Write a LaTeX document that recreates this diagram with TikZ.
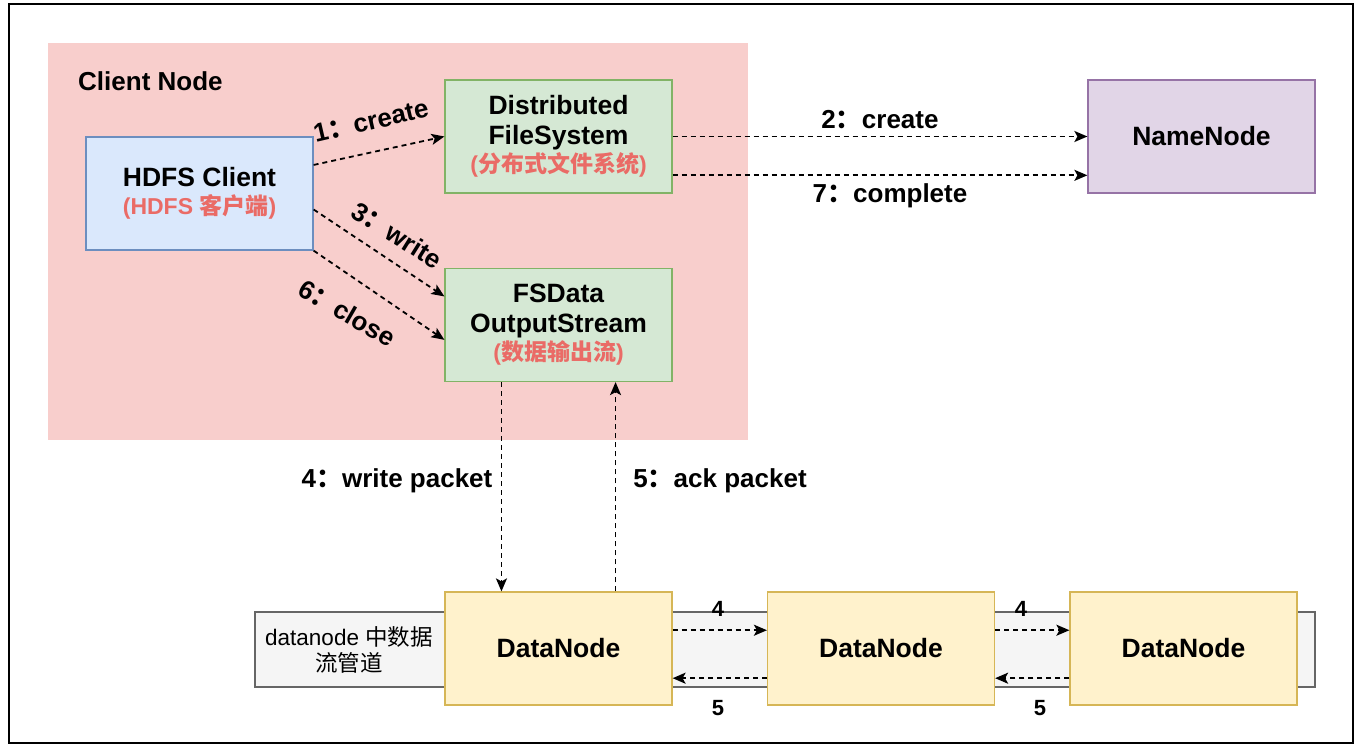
\documentclass[tikz,border=0pt]{standalone}
\usepackage{fontspec}
\setmainfont{Liberation Sans}
\newfontfamily\cjk{Noto Sans CJK SC}
\usetikzlibrary{arrows.meta,calc}
\definecolor{pinkbg}{HTML}{F8CECC}
\definecolor{bluef}{HTML}{DAE8FC}
\definecolor{bluel}{HTML}{6C8EBF}
\definecolor{greenf}{HTML}{D5E8D4}
\definecolor{greenl}{HTML}{82B366}
\definecolor{purf}{HTML}{E1D5E7}
\definecolor{purl}{HTML}{9673A6}
\definecolor{yelf}{HTML}{FFF2CC}
\definecolor{yell}{HTML}{D6B656}
\definecolor{grayf}{HTML}{F5F5F5}
\definecolor{grayl}{HTML}{666666}
\definecolor{redtxt}{HTML}{EA6B66}
\tikzset{
  box/.style={draw, line width=1.2pt, minimum width=227pt, minimum height=113pt, inner sep=0pt, align=center, font=\bfseries\fontsize{26.5}{30}\selectfont},
  conn/.style={line width=1.8pt, dash pattern=on 5pt off 4pt, -{Stealth[length=13pt,width=11pt,inset=3pt]}},
  lbl/.style={font=\bfseries\fontsize{26}{30}\selectfont, inner sep=1pt},
  slbl/.style={font=\bfseries\fontsize{22}{26}\selectfont, inner sep=1pt}
}
\newcommand{\rtxt}[1]{{\color{redtxt}\fontsize{23}{26}\selectfont #1}}
\begin{document}
\begin{tikzpicture}[x=1pt,y=-1pt]
\useasboundingbox (0,0) rectangle (1365,754);
\fill[white] (0,0) rectangle (1365,754);
\node[draw=black, line width=1.3pt, minimum width=1344pt, minimum height=739pt, inner sep=0pt] (frame) at (681,373.5) {};
% client node area
\node[fill=pinkbg, minimum width=700pt, minimum height=397pt, inner sep=0pt] (client) at (398,241.5) {};
\node[anchor=west, font=\bfseries\fontsize{26}{30}\selectfont, inner sep=1pt] (cnlabel) at (77,81) {Client Node};
% nodes
\node[box, fill=bluef, draw=bluel] (hc) at (199.5,193.5) {HDFS Client\\[-2pt]\rtxt{(HDFS {\cjk 客户端})}};
\node[box, fill=greenf, draw=greenl] (dfs) at (558.5,136.5) {Distributed\\FileSystem\\[-2pt]\rtxt{({\cjk 分布式文件系统})}};
\node[box, fill=greenf, draw=greenl] (fsd) at (558.5,325) {FSData\\OutputStream\\[-2pt]\rtxt{({\cjk 数据输出流})}};
\node[box, fill=purf, draw=purl] (nn) at (1201.5,136.5) {NameNode};
% pipeline strip
\node[draw=grayl, fill=grayf, line width=1.2pt, minimum width=1060pt, minimum height=75pt, inner sep=0pt] (pipe) at (785,649.5) {};
\node[align=center, font=\fontsize{22.5}{26}\selectfont] (pipelbl) at (349,650) {datanode {\cjk 中数据}\\{\cjk 流管道}};
\node[box, fill=yelf, draw=yell] (dn1) at (558.5,648.5) {DataNode};
\node[box, fill=yelf, draw=yell] (dn2) at (881,648.5) {DataNode};
\node[box, fill=yelf, draw=yell] (dn3) at (1183.5,648.5) {DataNode};
% connectors
\draw[conn] ($(hc.north east)!0.25!(hc.south east)$) -- (dfs.west);
\node[lbl, rotate=13] (l1) at (371,121) {1{\cjk ：}create};
\draw[conn] (dfs.east) -- (nn.west);
\node[lbl] (l2) at (880,120) {2{\cjk ：}create};
\draw[conn] ($(dfs.north east)!0.84!(dfs.south east)$) -- ($(nn.north west)!0.84!(nn.south west)$);
\node[lbl] (l7) at (890,196) {7{\cjk ：}complete};
\draw[conn] ($(hc.north east)!0.64!(hc.south east)$) -- ($(fsd.north west)!0.25!(fsd.south west)$);
\node[lbl, rotate=-32] (l3) at (397,235) {3{\cjk ：}write};
\draw[conn] (hc.south east) -- ($(fsd.north west)!0.63!(fsd.south west)$);
\node[lbl, rotate=-30] (l6) at (347,313) {6{\cjk ：}close};
\draw[conn] ($(fsd.south west)!0.25!(fsd.south east)$) -- ($(dn1.north west)!0.25!(dn1.north east)$);
\node[lbl] (l4) at (397,481) {4{\cjk ：}write packet};
\draw[conn] ($(dn1.north west)!0.75!(dn1.north east)$) -- ($(fsd.south west)!0.75!(fsd.south east)$);
\node[lbl] (l5) at (720,481) {5{\cjk ：}ack packet};
% pipeline connectors
\draw[conn] ($(dn1.north east)!0.34!(dn1.south east)$) -- ($(dn2.north west)!0.34!(dn2.south west)$);
\draw[conn] ($(dn2.north west)!0.76!(dn2.south west)$) -- ($(dn1.north east)!0.76!(dn1.south east)$);
\draw[conn] ($(dn2.north east)!0.34!(dn2.south east)$) -- ($(dn3.north west)!0.34!(dn3.south west)$);
\draw[conn] ($(dn3.north west)!0.76!(dn3.south west)$) -- ($(dn2.north east)!0.76!(dn2.south east)$);
\node[slbl] (p4a) at (718,609) {4};
\node[slbl] (p5a) at (718,708) {5};
\node[slbl] (p4b) at (1021,609) {4};
\node[slbl] (p5b) at (1040,708) {5};
\end{tikzpicture}
\end{document}
